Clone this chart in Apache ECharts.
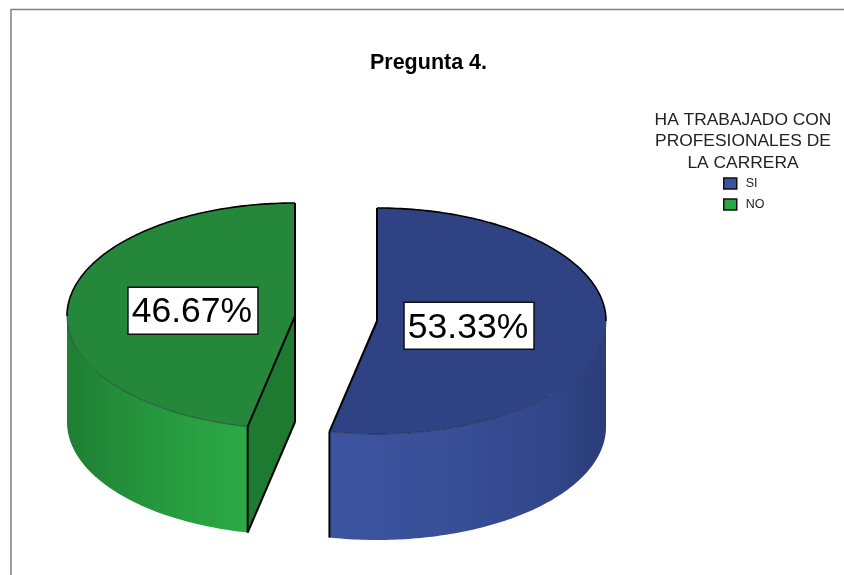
<!DOCTYPE html>
<html>
<head>
<meta charset="utf-8">
<style>html,body{margin:0;padding:0;background:#fff}#c{width:844px;height:575px}</style>
<script src="https://cdn.jsdelivr.net/npm/echarts@6/dist/echarts.min.js"></script>
</head>
<body>
<div id="c"></div>
<script>
const chartTitle = 'Pregunta 4.';
const legendTitle = 'HA TRABAJADO CON\nPROFESIONALES DE\nLA CARRERA';
const categories = ['SI', 'NO'];
const percentValues = [53.33, 46.67];

const sliceLayout = [
  { cx: 377, cy: 321, rx: 229, ry: 113, depth: 106, labelR: 0.404 },
  { cx: 295, cy: 316, rx: 228, ry: 113, depth: 106, labelR: 0.45 }
];
const sliceColors = [
  { top: '#2E4284', legend: '#3C549F', cut: '#26387A',
    wall: [[0, '#3C549F'], [0.4, '#394F98'], [0.8, '#31468A'], [1, '#2B3D78']] },
  { top: '#24873A', legend: '#2AA845', cut: '#1F7A31',
    wall: [[0, '#1F7E33'], [0.3, '#238E3A'], [0.6, '#279C3F'], [1, '#2BAA46']] }
];

const total = percentValues.reduce((a, b) => a + b, 0);

function sliceItem(index) {
  const L = sliceLayout[index], C = sliceColors[index];
  let before = 0;
  for (let i = 0; i < index; i++) before += percentValues[i];
  const start = before / total * 360, end = (before + percentValues[index]) / total * 360;
  const pt = (deg, dz) => {
    const r = deg * Math.PI / 180;
    return [L.cx + L.rx * Math.sin(r), L.cy - L.ry * Math.cos(r) + (dz || 0)];
  };
  const arc = (a, b, dz) => {
    const out = [], n = Math.max(2, Math.ceil(Math.abs(b - a)));
    for (let i = 0; i <= n; i++) out.push(pt(a + (b - a) * i / n, dz));
    return out;
  };
  const children = [];
  const line = (points, width, color) => children.push({
    type: 'polyline', shape: { points },
    style: { fill: 'none', stroke: color || '#000', lineWidth: width, lineJoin: 'round' }
  });
  const fs = Math.sin(start * Math.PI / 180), fe = Math.sin(end * Math.PI / 180);

  // outer wall (only the part of the rim that faces the viewer)
  const w0 = Math.max(start, 90), w1 = Math.min(end, 270);
  if (w1 > w0) {
    const top = arc(w0, w1, 0), bottom = arc(w1, w0, L.depth);
    const xs = top.concat(bottom).map(p => p[0]);
    children.push({
      type: 'polygon', shape: { points: top.concat(bottom) },
      style: {
        fill: {
          type: 'linear', global: true,
          x: Math.min.apply(null, xs), y: 0, x2: Math.max.apply(null, xs), y2: 0,
          colorStops: C.wall.map(s => ({ offset: s[0], color: s[1] }))
        }
      }
    });
  }
  // cut face
  const cutAt = fs < -1e-6 ? start : (fe > 1e-6 ? end : null);
  if (cutAt !== null) {
    const rim = pt(cutAt);
    const face = [[L.cx, L.cy], rim, pt(cutAt, L.depth), [L.cx, L.cy + L.depth]];
    children.push({ type: 'polygon', shape: { points: face }, style: { fill: C.cut } });
    line([rim, pt(cutAt, L.depth)], 2);
    line([pt(cutAt, L.depth), [L.cx, L.cy + L.depth]], 2);
    line([[L.cx, L.cy + L.depth], [L.cx, L.cy]], 2);
  } else {
    [start, end].forEach(a => {
      if (a > 90 && a < 270) line([pt(a), pt(a, L.depth)], 2);
    });
  }
  // top face
  children.push({
    type: 'polygon', shape: { points: [[L.cx, L.cy]].concat(arc(start, end, 0)) },
    style: { fill: C.top }
  });
  // rim strokes: heavy at the back, hairline at the front
  const backA = [Math.max(start, 0), Math.min(end, 90)], backB = [Math.max(start, 270), Math.min(end, 360)];
  if (backA[1] > backA[0]) line(arc(backA[0], backA[1], 0), 1.6);
  if (backB[1] > backB[0]) line(arc(backB[0], backB[1], 0), 1.6);
  if (w1 > w0) line(arc(w0, w1, 0), 0.6, '#1a2233');
  line([[L.cx, L.cy], pt(start)], 2);
  line([[L.cx, L.cy], pt(end)], 2);

  // value label
  const mid = (start + end) / 2, mr = mid * Math.PI / 180;
  const lx = L.cx + L.rx * L.labelR * Math.sin(mr), ly = L.cy - L.ry * L.labelR * Math.cos(mr);
  children.push({
    type: 'rect', shape: { x: lx - 65, y: ly - 23.5, width: 130, height: 47 },
    style: { fill: '#fff', stroke: '#111', lineWidth: 1.5 }
  });
  children.push({
    type: 'text',
    style: {
      x: lx - 1, y: ly + 2, text: percentValues[index].toFixed(2) + '%',
      font: '35.5px "Liberation Sans", Arial, sans-serif', fill: '#000',
      align: 'center', verticalAlign: 'middle'
    }
  });
  return { type: 'group', children };
}

const chart = echarts.init(document.getElementById('c'), null, { renderer: 'canvas' });
chart.setOption({
  animation: false,
  backgroundColor: '#fff',
  title: [
    { text: chartTitle, left: 423.5, top: 47, textAlign: 'center',
      textStyle: { fontFamily: 'Liberation Sans', fontSize: 21.5, fontWeight: 'bold', color: '#000' } },
    { text: legendTitle, left: 738, top: 104, textAlign: 'center',
      textStyle: { fontFamily: 'Liberation Sans', fontSize: 17.4, fontWeight: 'normal', color: '#222', lineHeight: 21.5 } }
  ],
  legend: {
    orient: 'vertical', left: 718, top: 172, itemWidth: 13, itemHeight: 11, itemGap: 8,
    icon: 'rect', selectedMode: false,
    textStyle: { fontFamily: 'Liberation Sans', fontSize: 12.5, color: '#222', padding: [0, 0, 0, 4] },
    data: categories.map((name, i) => ({
      name, itemStyle: { color: sliceColors[i].legend, borderColor: '#111', borderWidth: 1.5 }
    }))
  },
  graphic: [
    { type: 'line', silent: true, shape: { x1: 11, y1: 9.5, x2: 844, y2: 9.5 }, style: { stroke: '#7f7f7f', lineWidth: 1.5 } },
    { type: 'line', silent: true, shape: { x1: 11, y1: 9, x2: 11, y2: 575 }, style: { stroke: '#7f7f7f', lineWidth: 1.5 } }
  ],
  series: categories.map((name, i) => ({
    type: 'custom', name, coordinateSystem: 'none', silent: true,
    itemStyle: { color: sliceColors[i].legend },
    data: [{ name, value: percentValues[i] }],
    renderItem: () => sliceItem(i)
  }))
});
</script>
</body>
</html>
